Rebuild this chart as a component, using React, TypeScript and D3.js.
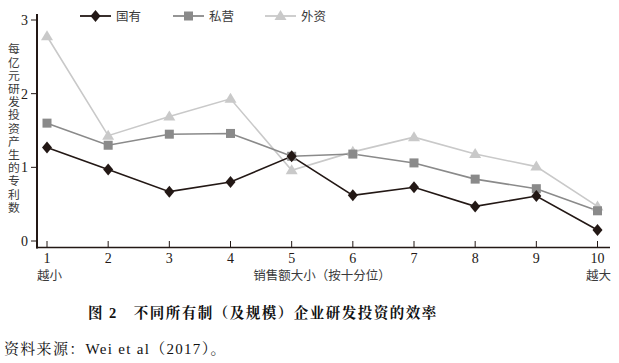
import React, { useEffect, useRef } from "react";
import * as d3 from "d3";

const deciles = [1, 2, 3, 4, 5, 6, 7, 8, 9, 10];
const stateOwned = [1.27, 0.97, 0.67, 0.8, 1.15, 0.62, 0.73, 0.47, 0.61, 0.15];
const privateOwned = [1.6, 1.3, 1.45, 1.46, 1.15, 1.18, 1.06, 0.84, 0.71, 0.41];
const foreignOwned = [2.78, 1.43, 1.69, 1.93, 0.96, 1.21, 1.41, 1.18, 1.01, 0.47];
const yTicks = [0, 1, 2, 3];
const seriesNames = ["国有", "私营", "外资"];

const W = 619;
const H = 363;
const serif = "'Liberation Serif', 'Noto Serif CJK SC', 'Noto Sans CJK SC', serif";

const App = () => {
  const svgRef = useRef<SVGSVGElement>(null);

  useEffect(() => {
    const svg = d3.select(svgRef.current);
    svg.selectAll("*").remove();

    const x = d3.scaleLinear().domain([1, 10]).range([47, 597.5]);
    const y = d3.scaleLinear().domain([0, 3]).range([241, 20]);

    const series = [
      { name: seriesNames[0], values: stateOwned, color: "#231815", marker: "diamond" },
      { name: seriesNames[1], values: privateOwned, color: "#8a8a8a", marker: "square" },
      { name: seriesNames[2], values: foreignOwned, color: "#c9c9c9", marker: "triangle" },
    ];

    const drawMarker = (g, type, cx, cy, color) => {
      if (type === "diamond") {
        g.append("path")
          .attr("d", `M${cx},${cy - 6}L${cx + 5},${cy}L${cx},${cy + 6}L${cx - 5},${cy}Z`)
          .attr("fill", color);
      } else if (type === "square") {
        g.append("rect")
          .attr("x", cx - 4.5).attr("y", cy - 4.5)
          .attr("width", 9).attr("height", 9)
          .attr("fill", color);
      } else {
        g.append("path")
          .attr("d", `M${cx},${cy - 6}L${cx + 6},${cy + 4}L${cx - 6},${cy + 4}Z`)
          .attr("fill", color);
      }
    };

    // 坐标轴
    const axisColor = "#231815";
    svg.append("line")
      .attr("x1", 37).attr("x2", 37).attr("y1", 14).attr("y2", 248.5)
      .attr("stroke", axisColor).attr("stroke-width", 2);
    svg.append("line")
      .attr("x1", 36).attr("x2", 610).attr("y1", 247.5).attr("y2", 247.5)
      .attr("stroke", axisColor).attr("stroke-width", 1.5);

    yTicks.forEach((t) => {
      svg.append("line")
        .attr("x1", 31).attr("x2", 37).attr("y1", y(t)).attr("y2", y(t))
        .attr("stroke", axisColor).attr("stroke-width", 1);
      svg.append("text")
        .attr("x", 28).attr("y", y(t) + 5)
        .attr("text-anchor", "end")
        .attr("font-family", serif).attr("font-size", 14)
        .attr("fill", "#231815")
        .text(t);
    });

    deciles.forEach((d) => {
      svg.append("line")
        .attr("x1", x(d)).attr("x2", x(d)).attr("y1", 241).attr("y2", 247)
        .attr("stroke", axisColor).attr("stroke-width", 1);
      svg.append("text")
        .attr("x", x(d)).attr("y", 263)
        .attr("text-anchor", "middle")
        .attr("font-family", serif).attr("font-size", 14)
        .attr("fill", "#231815")
        .text(d);
    });

    const labelStyle = (sel, size = 12.5) =>
      sel.attr("font-family", "'Noto Sans CJK SC', sans-serif")
        .attr("font-size", size).attr("fill", "#3a3a3a");

    svg.append("text").attr("x", 37).attr("y", 280).call(labelStyle).text("越小");
    svg.append("text").attr("x", 611).attr("y", 280).attr("text-anchor", "end").call(labelStyle).text("越大");
    svg.append("text").attr("x", 322).attr("y", 280).attr("text-anchor", "middle").call(labelStyle).text("销售额大小（按十分位）");

    // Y轴标题（竖排）
    svg.append("text")
      .attr("x", 14).attr("y", 43)
      .style("writing-mode", "vertical-rl")
      .style("text-orientation", "upright")
      .attr("letter-spacing", 1.4)
      .call(labelStyle, 11.8)
      .text("每亿元研发投资产生的专利数");

    // 折线
    const line = d3.line<number>()
      .x((_, i) => x(deciles[i]))
      .y((v) => y(v));

    [...series].reverse().forEach((s) => {
      svg.append("path")
        .attr("d", line(s.values))
        .attr("fill", "none")
        .attr("stroke", s.color)
        .attr("stroke-width", 1.6);
    });
    [...series].reverse().forEach((s) => {
      const g = svg.append("g");
      s.values.forEach((v, i) => drawMarker(g, s.marker, x(deciles[i]), y(v), s.color));
    });

    // 图例
    const legendX = [80, 173, 265];
    series.forEach((s, i) => {
      const g = svg.append("g");
      g.append("line")
        .attr("x1", legendX[i]).attr("x2", legendX[i] + 31)
        .attr("y1", 16).attr("y2", 16)
        .attr("stroke", s.color).attr("stroke-width", 1.8);
      drawMarker(g, s.marker, legendX[i] + 15.5, 16, s.color);
      g.append("text")
        .attr("x", legendX[i] + 36).attr("y", 21)
        .call(labelStyle)
        .text(s.name);
    });

    // 图题与资料来源
    svg.append("text")
      .attr("x", 88).attr("y", 318)
      .attr("font-family", serif).attr("font-size", 14.5)
      .attr("font-weight", "bold").attr("letter-spacing", 1.5)
      .attr("fill", "#111")
      .text("图 2　不同所有制（及规模）企业研发投资的效率");

    svg.append("text")
      .attr("x", 4).attr("y", 354)
      .attr("font-family", serif).attr("font-size", 15)
      .attr("letter-spacing", 1.3)
      .attr("fill", "#111")
      .text("资料来源：Wei et al（2017）。");
  }, []);

  return (
    <svg
      ref={svgRef}
      width={W}
      height={H}
      style={{ position: "absolute", left: 0, top: 0, background: "#fff" }}
    />
  );
};

export default App;
